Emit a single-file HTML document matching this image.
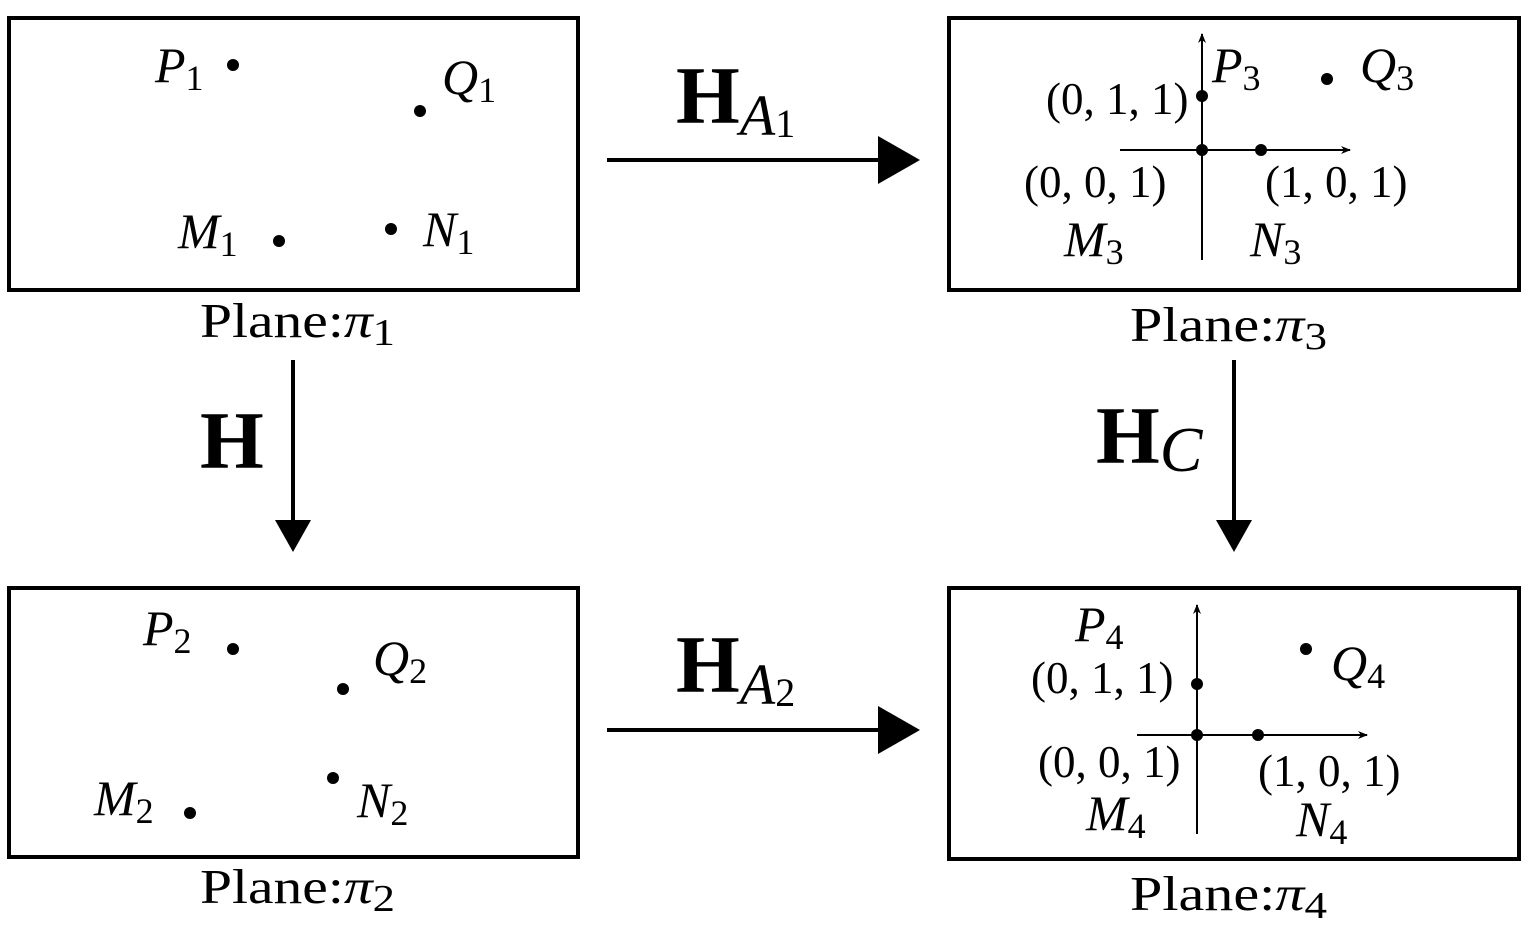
<!DOCTYPE html>
<html><head><meta charset="utf-8"><style>
html,body{margin:0;padding:0;background:#fff;}
svg{display:block;}
text{font-family:"Liberation Serif",serif;fill:#000;}
.i{font-style:italic;font-size:50px;}
.s{font-size:36px;font-style:normal;}
.c{font-size:45px;}
.pl{font-size:49px;}
.b{font-weight:bold;font-size:82px;}
</style></head><body>
<svg width="1528" height="932" viewBox="0 0 1528 932" xmlns="http://www.w3.org/2000/svg">
<defs><marker id="a" markerWidth="10" markerHeight="8" refX="9" refY="4" orient="auto" markerUnits="userSpaceOnUse"><path d="M0,0 L10,4 L0,8 L3,4z" fill="#000"/></marker></defs>
<g fill="none" stroke="#000" stroke-width="4">
<rect x="9" y="18" width="569" height="272"/>
<rect x="949" y="18" width="570" height="272"/>
<rect x="9" y="588" width="569" height="269"/>
<rect x="949" y="588" width="570" height="271"/>
</g>
<g stroke="#000" stroke-width="4">
<line x1="607" y1="160" x2="882" y2="160"/>
<line x1="607" y1="730" x2="882" y2="730"/>
<line x1="293" y1="360" x2="293" y2="522"/>
<line x1="1234" y1="360" x2="1234" y2="522"/>
</g>
<polygon points="878,136 920,160 878,184" fill="#000"/>
<polygon points="878,706 920,730 878,754" fill="#000"/>
<polygon points="275,520 293,552 311,520" fill="#000"/>
<polygon points="1216,520 1234,552 1252,520" fill="#000"/>
<text x="676" y="123" class="b">H<tspan class="i" style="font-weight:normal;font-size:58px" dy="12">A</tspan><tspan class="s" style="font-weight:normal;font-size:40px" dy="2">1</tspan></text>
<text x="676" y="692" class="b">H<tspan class="i" style="font-weight:normal;font-size:58px" dy="12">A</tspan><tspan class="s" style="font-weight:normal;font-size:40px" dy="2">2</tspan></text>
<text x="200" y="468" class="b">H</text>
<text x="1096" y="463" class="b">H<tspan class="i" style="font-weight:normal;font-size:64px" dy="8">C</tspan></text>
<text x="200" y="337" class="pl" textLength="195" lengthAdjust="spacingAndGlyphs">Plane:<tspan font-style="italic">π</tspan><tspan style="font-size:38px" dy="8">1</tspan></text>
<text x="1130" y="341" class="pl" textLength="197" lengthAdjust="spacingAndGlyphs">Plane:<tspan font-style="italic">π</tspan><tspan style="font-size:38px" dy="8">3</tspan></text>
<text x="200" y="903" class="pl" textLength="195" lengthAdjust="spacingAndGlyphs">Plane:<tspan font-style="italic">π</tspan><tspan style="font-size:38px" dy="8">2</tspan></text>
<text x="1130" y="910" class="pl" textLength="197" lengthAdjust="spacingAndGlyphs">Plane:<tspan font-style="italic">π</tspan><tspan style="font-size:38px" dy="8">4</tspan></text>
<g fill="#000">
<circle cx="233" cy="65" r="6"/><circle cx="420" cy="111" r="6"/><circle cx="279" cy="241" r="6"/><circle cx="391" cy="229" r="6"/>
<circle cx="233" cy="649" r="6"/><circle cx="343" cy="689" r="6"/><circle cx="190" cy="813" r="6"/><circle cx="333" cy="778" r="6"/>
<circle cx="1202" cy="96" r="6"/><circle cx="1202" cy="150" r="6"/><circle cx="1261" cy="150" r="6"/><circle cx="1327" cy="79" r="6"/>
<circle cx="1197" cy="684" r="6"/><circle cx="1197" cy="735" r="6"/><circle cx="1258" cy="735" r="6"/><circle cx="1306" cy="649" r="6"/>
</g>
<text x="155" y="82" class="i">P<tspan class="s" dy="8">1</tspan></text>
<text x="442" y="94" class="i">Q<tspan class="s" dy="8">1</tspan></text>
<text x="178" y="248" class="i">M<tspan class="s" dy="8">1</tspan></text>
<text x="423" y="246" class="i">N<tspan class="s" dy="8">1</tspan></text>
<text x="143" y="645" class="i">P<tspan class="s" dy="8">2</tspan></text>
<text x="373" y="675" class="i">Q<tspan class="s" dy="8">2</tspan></text>
<text x="94" y="815" class="i">M<tspan class="s" dy="8">2</tspan></text>
<text x="357" y="817" class="i">N<tspan class="s" dy="8">2</tspan></text>
<g stroke="#000" stroke-width="2">
<line x1="1202" y1="260" x2="1202" y2="34" marker-end="url(#a)"/>
<line x1="1120" y1="150" x2="1350" y2="150" marker-end="url(#a)"/>
<line x1="1197" y1="834" x2="1197" y2="605" marker-end="url(#a)"/>
<line x1="1137" y1="735" x2="1367" y2="735" marker-end="url(#a)"/>
</g>
<text x="1212" y="82" class="i">P<tspan class="s" dy="8">3</tspan></text>
<text x="1360" y="82" class="i">Q<tspan class="s" dy="8">3</tspan></text>
<text x="1046" y="114" class="c">(0, 1, 1)</text>
<text x="1024" y="197" class="c">(0, 0, 1)</text>
<text x="1265" y="197" class="c">(1, 0, 1)</text>
<text x="1064" y="256" class="i">M<tspan class="s" dy="8">3</tspan></text>
<text x="1250" y="256" class="i">N<tspan class="s" dy="8">3</tspan></text>
<text x="1075" y="641" class="i">P<tspan class="s" dy="8">4</tspan></text>
<text x="1331" y="680" class="i">Q<tspan class="s" dy="8">4</tspan></text>
<text x="1031" y="693" class="c">(0, 1, 1)</text>
<text x="1038" y="777" class="c">(0, 0, 1)</text>
<text x="1258" y="786" class="c">(1, 0, 1)</text>
<text x="1086" y="830" class="i">M<tspan class="s" dy="8">4</tspan></text>
<text x="1296" y="836" class="i">N<tspan class="s" dy="8">4</tspan></text>
</svg>
</body></html>
